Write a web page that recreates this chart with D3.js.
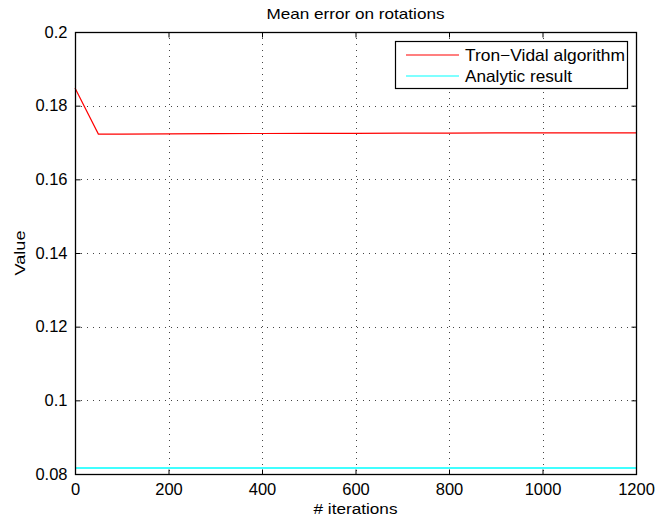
<!DOCTYPE html>
<html>
<head>
<meta charset="utf-8">
<script src="https://cdn.jsdelivr.net/npm/d3@7"></script>
<style>
  body { margin: 0; background: #fff; }
  svg text { font-family: "Liberation Sans", Arial, sans-serif; fill: #000; }
</style>
</head>
<body>
<svg width="656" height="523"></svg>
<script>
// values
var iterations = [0, 50, 100, 200, 300, 400, 500, 600, 700, 800, 900, 1000, 1100, 1200];
var tronVidal = [0.1848, 0.1723, 0.1723, 0.17235, 0.1724, 0.17245, 0.1725, 0.1725, 0.17255, 0.17255, 0.1726, 0.1726, 0.1726, 0.1726];
var analytic = [0.0816, 0.0816, 0.0816, 0.0816, 0.0816, 0.0816, 0.0816, 0.0816, 0.0816, 0.0816, 0.0816, 0.0816, 0.0816, 0.0816];
var xTicks = [0, 200, 400, 600, 800, 1000, 1200];
var yTicks = [0.08, 0.1, 0.12, 0.14, 0.16, 0.18, 0.2];
var seriesNames = ["Tron\u2212Vidal algorithm", "Analytic result"];
var seriesColors = ["#ff0000", "#00ffff"];

var svg = d3.select("svg");
// plot box (note: "top" is reserved on window, so use pTop etc)
var pLeft = 75, pRight = 636, pTop = 32, pBottom = 474;

var x = d3.scaleLinear().domain([0, 1200]).range([pLeft, pRight]);
var y = d3.scaleLinear().domain([0.08, 0.2]).range([pBottom, pTop]);

// grid
var grid = svg.append("g")
    .attr("stroke", "#444")
    .attr("stroke-width", 1)
    .attr("stroke-dasharray", "1,5");
grid.selectAll(".gx")
    .data(xTicks.slice(1, -1))
    .enter().append("line")
    .attr("x1", d => Math.round(x(d)) + 0.5)
    .attr("x2", d => Math.round(x(d)) + 0.5)
    .attr("y1", pTop).attr("y2", pBottom);
grid.selectAll(".gy")
    .data(yTicks.slice(1, -1))
    .enter().append("line")
    .attr("y1", d => Math.round(y(d)) + 0.5)
    .attr("y2", d => Math.round(y(d)) + 0.5)
    .attr("x1", pLeft).attr("x2", pRight);

// series
var line = d3.line()
    .x((d, i) => x(iterations[i]))
    .y(d => y(d));
[tronVidal, analytic].forEach(function(s, i) {
    svg.append("path")
        .datum(s)
        .attr("fill", "none")
        .attr("stroke", seriesColors[i])
        .attr("stroke-width", i === 1 ? 1.5 : 1.2)
        .attr("d", line);
});

// axes box
svg.append("rect")
    .attr("x", pLeft + 0.5).attr("y", pTop + 0.5)
    .attr("width", pRight - pLeft).attr("height", pBottom - pTop)
    .attr("fill", "none").attr("stroke", "#000").attr("stroke-width", 1.3);

var xAxis = d3.axisBottom(x).tickValues(xTicks).tickSize(-5).tickPadding(9)
    .tickFormat(d3.format("d"));
var gx = svg.append("g").attr("transform", `translate(0,${pBottom + 0.5})`).call(xAxis);
var xTop = d3.axisTop(x).tickValues(xTicks).tickSize(-5).tickFormat("");
var gxt = svg.append("g").attr("transform", `translate(0,${pTop + 0.5})`).call(xTop);

var yAxis = d3.axisLeft(y).tickValues(yTicks).tickSize(-5).tickPadding(8)
    .tickFormat(d => String(+d.toFixed(2)));
var gy = svg.append("g").attr("transform", `translate(${pLeft + 0.5},0)`).call(yAxis);
var yRight = d3.axisRight(y).tickValues(yTicks).tickSize(-5).tickFormat("");
var gyr = svg.append("g").attr("transform", `translate(${pRight + 0.5},0)`).call(yRight);

[gx, gxt, gy, gyr].forEach(function(g) {
    g.select(".domain").remove();
    g.selectAll(".tick line").attr("stroke", "#000");
    g.selectAll("text")
        .style("font-family", "'Liberation Sans', Arial, sans-serif")
        .style("font-size", "16.5px")
        .attr("fill", "#000");
});

// labels
svg.append("text")
    .attr("x", (pLeft + pRight) / 2).attr("y", 19)
    .attr("text-anchor", "middle")
    .attr("textLength", 178).attr("lengthAdjust", "spacingAndGlyphs")
    .style("font-size", "14.5px")
    .text("Mean error on rotations");
svg.append("text")
    .attr("x", (pLeft + pRight) / 2).attr("y", 514)
    .attr("text-anchor", "middle")
    .attr("textLength", 84).attr("lengthAdjust", "spacingAndGlyphs")
    .style("font-size", "15.5px")
    .text("# iterations");
svg.append("text")
    .attr("transform", `translate(25,${(pTop + pBottom) / 2}) rotate(-90)`)
    .attr("text-anchor", "middle")
    .attr("textLength", 45).attr("lengthAdjust", "spacingAndGlyphs")
    .style("font-size", "15.5px")
    .text("Value");

// legend
var legendLen = [160, 107];
var legend = svg.append("g");
legend.append("rect")
    .attr("x", 395.5).attr("y", 41.5)
    .attr("width", 232).attr("height", 47)
    .attr("fill", "#fff").attr("stroke", "#000").attr("stroke-width", 1.2);
seriesNames.forEach(function(name, i) {
    var ly = 55 + i * 21;
    legend.append("line")
        .attr("x1", 406).attr("x2", 459)
        .attr("y1", ly).attr("y2", ly)
        .attr("stroke", seriesColors[i]).attr("stroke-width", 1.2);
    legend.append("text")
        .attr("x", 465).attr("y", ly + 6)
        .attr("textLength", legendLen[i]).attr("lengthAdjust", "spacingAndGlyphs")
        .style("font-size", "16.5px")
        .text(name);
});
</script>
</body>
</html>
